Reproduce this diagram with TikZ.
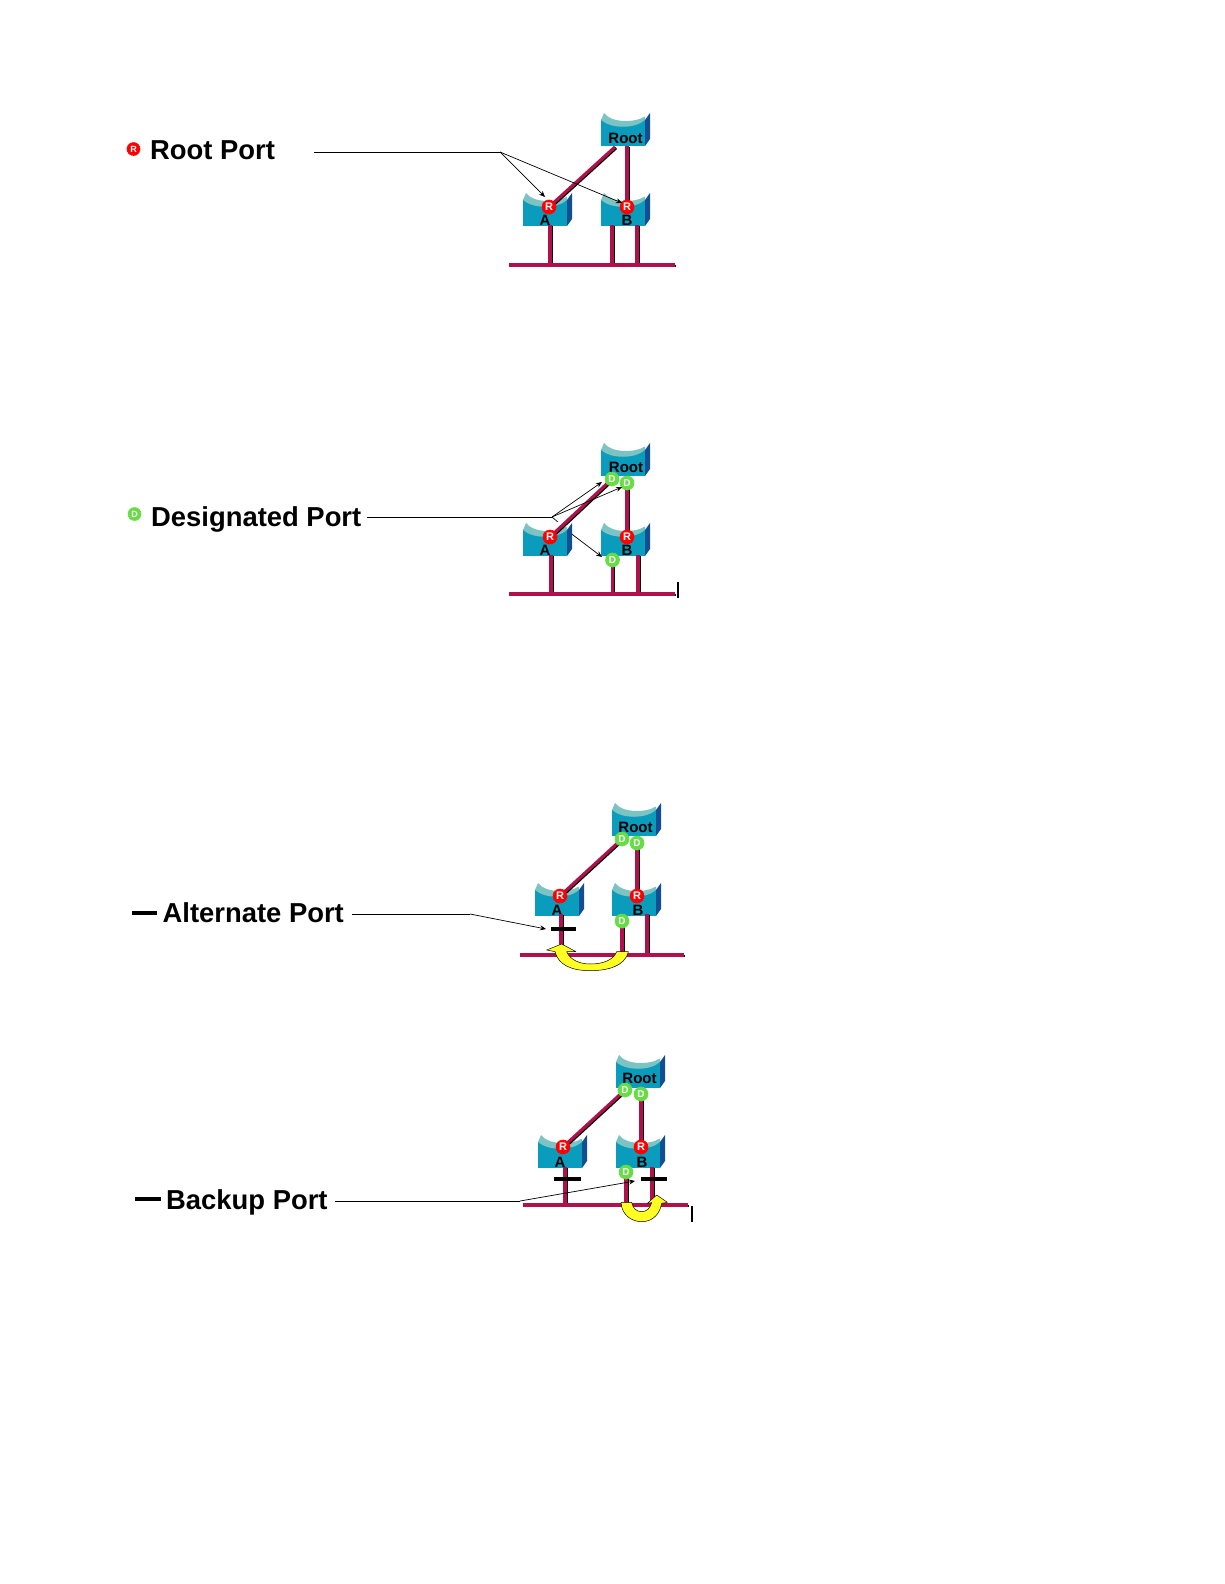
\documentclass[tikz,border=0pt]{standalone}
\usepackage{fontspec}
\setmainfont{Liberation Sans}
\usetikzlibrary{arrows.meta,shapes.geometric}
\definecolor{swfront}{HTML}{0A9CBC}
\definecolor{swrim}{HTML}{7CC4C4}
\definecolor{swside}{HTML}{114E92}
\definecolor{linkred}{HTML}{B0104C}
\definecolor{portred}{HTML}{FF0000}
\definecolor{portgreen}{HTML}{66DD44}
\definecolor{arrowyel}{HTML}{FFFF22}
\tikzset{
  x=1pt,y=-1pt,
  legendtext/.style={font=\bfseries\fontsize{27.4}{27.4}\selectfont,anchor=base west,inner sep=0pt,text=black},
  swlabel/.style={font=\bfseries\fontsize{15}{15}\selectfont,inner sep=0pt,text=black},
  rootport/.style={circle,fill=portred,draw=portred,line width=.7pt,dash pattern=on 1.5pt off .5pt,minimum size=14pt,inner sep=0pt,text=white,font=\bfseries\fontsize{11}{11}\selectfont},
  desigport/.style={circle,fill=portgreen,draw=portgreen,line width=.7pt,dash pattern=on 1.5pt off .5pt,minimum size=14pt,inner sep=0pt,text=white,font=\bfseries\fontsize{10}{10}\selectfont},
  legendport/.style={minimum size=13pt,font=\bfseries\fontsize{9}{9}\selectfont},
  linkfront/.style={line width=3.2pt,linkred},
  pointer/.style={line width=.7pt,black},
  pointerarrow/.style={line width=.7pt,black,-{Stealth[length=6pt,width=5pt]}},
  barblock/.style={line width=4.6pt,black},
  legenddash/.style={line width=4.6pt,black},
  tick/.style={line width=1.1pt,black},
  uturn/.style={fill=arrowyel,draw=black,line width=.5pt,line join=round}
}
\newcommand{\lowered}[1]{\raisebox{-1.5pt}{#1}}
% \swbox{name}{x}{y}{label}{label dx}{label dy}
\newcommand{\swbox}[6]{%
  \begin{scope}[shift={(#2,#3)}]
    \fill[swfront] (0,5) -- (44,5) -- (44,33) -- (0,33) -- cycle;
    \fill[white] (0,-1) -- (0,6) .. controls (10,15) and (34,15) .. (44,6) -- (44,-1) -- cycle;
    \fill[swrim] (0,7) .. controls (10,16) and (34,16) .. (44,7) -- (44,3.5) .. controls (34,10) and (10,10) .. (3,0) -- (0,7) -- cycle;
    \fill[swside] (44,7) -- (49,0) -- (49,26) -- (44,33) -- cycle;
    \node[inner sep=0pt,minimum width=49pt,minimum height=33pt,anchor=north west] (#1) at (0,0) {};
    \node[swlabel] (#1lab) at (#5,#6) {#4};
  \end{scope}}
% \wire{from}{to}
\newcommand{\wire}[2]{%
  \draw[line width=2.6pt,black] ([shift={(1.2,1)}]#1) -- ([shift={(1.2,1)}]#2);
  \draw[linkfront] (#1) -- (#2);}
\begin{document}
\begin{tikzpicture}
\useasboundingbox (0,0) rectangle (1224,1584);
\fill[white] (0,0) rectangle (1224,1584);

%%%% Panel 1
\coordinate (a1top) at (615,147); \coordinate (b1top) at (627,146);
\coordinate (a1R) at (549,207); \coordinate (b1R) at (627,207);
\coordinate (a1o) at (550,225); \coordinate (a1e) at (550,265);
\coordinate (b1o) at (612,225); \coordinate (b1e) at (612,265);
\coordinate (b1p) at (637,225); \coordinate (b1q) at (637,265);
\coordinate (bus1l) at (509,265); \coordinate (bus1r) at (675,265);
\swbox{root1}{601}{113}{Root}{24.5}{25}
\swbox{a1}{523}{193}{A}{22}{27}
\swbox{b1}{601}{193}{B}{26}{27}
\wire{a1top}{a1R}\wire{b1top}{b1R}
\wire{a1o}{a1e}\wire{b1o}{b1e}\wire{b1p}{b1q}\wire{bus1l}{bus1r}
\node[rootport] (a1port) at (a1R) {\lowered{R}};
\node[rootport] (b1port) at (b1R) {\lowered{R}};
\node[legendtext] (leg1) at (150,160) {Root Port};
\node[rootport,legendport] (leg1port) at (133.5,149) {\lowered{R}};
\coordinate (p1s) at (314,152); \coordinate (p1j) at (500,152);
\coordinate (p1a) at (545,197); \coordinate (p1b) at (622,203);
\draw[pointer] (p1s) -- (p1j);
\draw[pointerarrow] (p1j) -- (p1a);
\draw[pointerarrow] (p1j) -- (p1b);

%%%% Panel 2
\coordinate (p2j) at (552,517); \coordinate (p2s) at (367,517);
\coordinate (p2k) at (573,535); \coordinate (p2d3) at (602,557);
\draw[pointer] (p2j) -- (p2k);
\coordinate (a2R) at (550,537); \coordinate (b2R) at (627,537);
\coordinate (r2Da) at (612,479); \coordinate (r2Db) at (627,483);
\coordinate (b2D) at (612.5,560);
\coordinate (a2o) at (551,555); \coordinate (a2e) at (551,594);
\coordinate (b2q) at (612.5,594);
\coordinate (b2p) at (638,555); \coordinate (b2r) at (638,594);
\coordinate (bus2l) at (509,594); \coordinate (bus2r) at (675,594);
\swbox{root2}{601}{443}{Root}{25}{24}
\swbox{a2}{523}{523}{A}{22}{27}
\swbox{b2}{601}{523}{B}{26}{27}
\draw[pointerarrow] (p2k) -- (p2d3);
\wire{r2Da}{a2R}\wire{r2Db}{b2R}
\wire{a2o}{a2e}\wire{b2D}{b2q}\wire{b2p}{b2r}\wire{bus2l}{bus2r}
\node[rootport] (a2port) at (a2R) {\lowered{R}};
\node[rootport] (b2port) at (b2R) {\lowered{R}};
\node[desigport] (r2pa) at (r2Da) {\lowered{D}};
\node[desigport] (r2pb) at (r2Db) {\lowered{D}};
\node[desigport] (b2pd) at (b2D) {\lowered{D}};
\node[legendtext] (leg2) at (151,526) {Designated Port};
\node[desigport,legendport] (leg2port) at (134.5,514) {\lowered{D}};
\coordinate (p2a) at (602,482); \coordinate (p2b) at (622,487);
\draw[pointer] (p2s) -- (p2j);
\draw[pointerarrow] (p2j) -- (p2a);
\draw[pointerarrow] (p2j) -- (p2b);
\coordinate (t2a) at (678,582); \coordinate (t2b) at (678,598);
\draw[tick] (t2a) -- (t2b);

%%%% Panel 3
\coordinate (a3R) at (560,896); \coordinate (b3R) at (637,896);
\coordinate (r3Da) at (622,839); \coordinate (r3Db) at (637,843);
\coordinate (b3D) at (622,921);
\coordinate (a3o) at (561,914); \coordinate (a3e) at (561,955);
\coordinate (b3q) at (622,955);
\coordinate (b3p) at (647,914); \coordinate (b3r) at (647,955);
\coordinate (bus3l) at (520,955); \coordinate (bus3r) at (684,955);
\swbox{root3}{612}{803}{Root}{23.5}{24}
\swbox{a3}{535}{883}{A}{22}{27}
\swbox{b3}{612}{883}{B}{26}{27}
\wire{r3Da}{a3R}\wire{r3Db}{b3R}
\wire{a3o}{a3e}\wire{b3D}{b3q}\wire{b3p}{b3r}\wire{bus3l}{bus3r}
\node[rootport] (a3port) at (a3R) {\lowered{R}};
\node[rootport] (b3port) at (b3R) {\lowered{R}};
\node[desigport] (r3pa) at (r3Da) {\lowered{D}};
\node[desigport] (r3pb) at (r3Db) {\lowered{D}};
\node[desigport] (b3pd) at (b3D) {\lowered{D}};
\coordinate (bar3l) at (551,929); \coordinate (bar3r) at (576,929);
\draw[barblock] (bar3l) -- (bar3r);
\begin{scope}[shift={(500,790)},scale=1/3]
  \draw[uturn] (385,485) .. controls (375,530) and (320,542) .. (270,542)
    .. controls (215,542) and (175,525) .. (165,485)
    -- (140,480) -- (185,462) -- (228,485) -- (200,485)
    .. controls (210,510) and (240,522) .. (270,522)
    .. controls (310,522) and (340,510) .. (350,485) -- cycle;
\end{scope}
\node[legendtext] (leg3) at (162.5,922) {Alternate Port};
\coordinate (d3l) at (132,913); \coordinate (d3r) at (157,913);
\draw[legenddash] (d3l) -- (d3r);
\coordinate (p3s) at (351.5,914); \coordinate (p3j) at (470,914);
\coordinate (p3a) at (546,929);
\draw[pointer] (p3s) -- (p3j);
\draw[pointerarrow] (p3j) -- (p3a);

%%%% Panel 4
\coordinate (a4R) at (563,1147); \coordinate (b4R) at (641,1147);
\coordinate (r4Da) at (625,1090); \coordinate (r4Db) at (641,1094);
\coordinate (b4D) at (626,1172);
\coordinate (a4o) at (565,1167); \coordinate (a4e) at (565,1205);
\coordinate (b4q) at (626,1205);
\coordinate (b4p) at (652,1167); \coordinate (b4r) at (652,1205);
\coordinate (bus4l) at (523,1205); \coordinate (bus4r) at (688,1205);
\swbox{root4}{616}{1055}{Root}{23.5}{23}
\swbox{a4}{538}{1135}{A}{22}{27}
\swbox{b4}{616}{1135}{B}{26}{27}
\wire{r4Da}{a4R}\wire{r4Db}{b4R}
\wire{a4o}{a4e}\wire{b4D}{b4q}\wire{b4p}{b4r}\wire{bus4l}{bus4r}
\node[rootport] (a4port) at (a4R) {\lowered{R}};
\node[rootport] (b4port) at (b4R) {\lowered{R}};
\node[desigport] (r4pa) at (r4Da) {\lowered{D}};
\node[desigport] (r4pb) at (r4Db) {\lowered{D}};
\node[desigport] (b4pd) at (b4D) {\lowered{D}};
\coordinate (bar4al) at (554,1179); \coordinate (bar4ar) at (581,1179);
\coordinate (bar4bl) at (641,1179); \coordinate (bar4br) at (667,1179);
\draw[barblock] (bar4al) -- (bar4ar);
\draw[barblock] (bar4bl) -- (bar4br);
\begin{scope}[shift={(510,1040)},scale=1/3]
  \draw[uturn] (333,487) .. controls (335,525) and (365,545) .. (395,545)
    .. controls (430,545) and (450,520) .. (455,490)
    -- (472,487) -- (440,465) -- (412,490) -- (425,488)
    .. controls (420,505) and (410,515) .. (395,515)
    .. controls (380,515) and (368,505) .. (365,487) -- cycle;
\end{scope}
\node[legendtext] (leg4) at (166,1209) {Backup Port};
\coordinate (d4l) at (135,1199); \coordinate (d4r) at (160.5,1199);
\draw[legenddash] (d4l) -- (d4r);
\coordinate (p4s) at (334.5,1201); \coordinate (p4j) at (520,1201);
\coordinate (p4a) at (635,1181);
\draw[pointer] (p4s) -- (p4j);
\draw[pointerarrow] (p4j) -- (p4a);
\coordinate (t4a) at (692,1206); \coordinate (t4b) at (692,1222);
\draw[tick] (t4a) -- (t4b);
\end{tikzpicture}
\end{document}
